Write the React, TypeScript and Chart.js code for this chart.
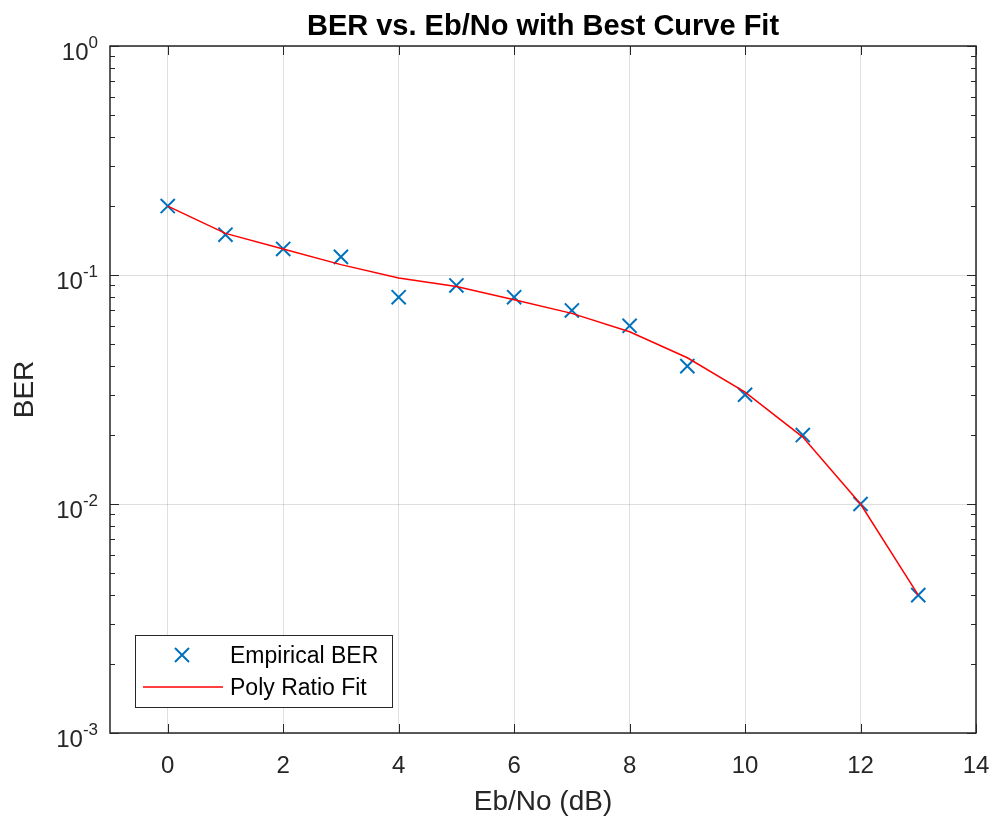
import React, { useEffect, useRef } from "react";
import { Chart, registerables } from "chart.js";

Chart.register(...registerables);

const ebNoDb = [0, 1, 2, 3, 4, 5, 6, 7, 8, 9, 10, 11, 12, 13];
const empiricalBer = [0.2, 0.15, 0.13, 0.12, 0.08, 0.09, 0.08, 0.07, 0.06, 0.04, 0.03, 0.02, 0.01, 0.004];
const polyRatioFit = [0.2, 0.152, 0.13, 0.111, 0.097, 0.089, 0.078, 0.068, 0.0565, 0.0435, 0.0308, 0.0196, 0.01, 0.004];
const xTickValues = [0, 2, 4, 6, 8, 10, 12, 14];
const yDecadeValues = [0.001, 0.01, 0.1, 1];
const yDecadeExponents = ["-3", "-2", "-1", "0"];
const chartTitle = "BER vs. Eb/No with Best Curve Fit";
const xAxisTitle = "Eb/No (dB)";
const yAxisTitle = "BER";
const seriesNames = ["Empirical BER", "Poly Ratio Fit"];

const FONT = "Arial, 'Liberation Sans', Helvetica, sans-serif";
const AXIS_COLOR = "#262626";
const GRID_COLOR = "rgba(38,38,38,0.15)";
const BLUE = "#0072BD";
const RED = "#FF0000";

const matlabDecor = {
  id: "matlabDecor",
  afterDraw(chart: any) {
    const ctx = chart.ctx as CanvasRenderingContext2D;
    const { left, right, top, bottom } = chart.chartArea;
    const xs = chart.scales.x;
    const ys = chart.scales.y;
    ctx.save();

    // tick marks (inside, both sides)
    ctx.strokeStyle = AXIS_COLOR;
    ctx.lineWidth = 1;
    ctx.beginPath();
    xTickValues.forEach((v) => {
      const px = Math.round(xs.getPixelForValue(v)) + 0.5;
      ctx.moveTo(px, bottom);
      ctx.lineTo(px, bottom - 9);
      ctx.moveTo(px, top);
      ctx.lineTo(px, top + 9);
    });
    yDecadeValues.forEach((d, i) => {
      const maxM = i === yDecadeValues.length - 1 ? 1 : 9;
      for (let m = 1; m <= maxM; m++) {
        const py = Math.round(ys.getPixelForValue(d * m)) + 0.5;
        const len = m === 1 ? 9 : 5;
        ctx.moveTo(left, py);
        ctx.lineTo(left + len, py);
        ctx.moveTo(right, py);
        ctx.lineTo(right - len, py);
      }
    });
    ctx.stroke();

    // axes box
    ctx.lineWidth = 1.5;
    ctx.strokeRect(left, top, right - left, bottom - top);

    // y tick labels with superscripts
    ctx.fillStyle = AXIS_COLOR;
    ctx.textAlign = "right";
    ctx.textBaseline = "alphabetic";
    yDecadeValues.forEach((v, i) => {
      const py = ys.getPixelForValue(v);
      const xr = left - 12;
      ctx.font = `17px ${FONT}`;
      const supW = ctx.measureText(yDecadeExponents[i]).width;
      ctx.fillText(yDecadeExponents[i], xr, py + 2);
      ctx.font = `24px ${FONT}`;
      ctx.fillText("10", xr - supW, py + 14);
    });

    // title
    const cx = (left + right) / 2;
    ctx.fillStyle = "#000000";
    ctx.textAlign = "center";
    ctx.font = `bold 29px ${FONT}`;
    ctx.fillText(chartTitle, cx, 35);

    // x axis title
    ctx.fillStyle = AXIS_COLOR;
    ctx.font = `28px ${FONT}`;
    ctx.fillText(xAxisTitle, cx, 810);

    // y axis title
    ctx.save();
    ctx.translate(33, (top + bottom) / 2);
    ctx.rotate(-Math.PI / 2);
    ctx.fillText(yAxisTitle, 0, 0);
    ctx.restore();

    // legend
    const lx = 135.5, ly = 635.5, lw = 257, lh = 72;
    ctx.fillStyle = "#ffffff";
    ctx.fillRect(lx, ly, lw, lh);
    ctx.strokeStyle = AXIS_COLOR;
    ctx.lineWidth = 1;
    ctx.strokeRect(lx, ly, lw, lh);

    const ds0 = chart.data.datasets[0];
    const ds1 = chart.data.datasets[1];
    ctx.strokeStyle = ds0.borderColor;
    ctx.lineWidth = ds0.borderWidth;
    ctx.beginPath();
    const mx = 182, my = 655, h = 7;
    ctx.moveTo(mx - h, my - h);
    ctx.lineTo(mx + h, my + h);
    ctx.moveTo(mx - h, my + h);
    ctx.lineTo(mx + h, my - h);
    ctx.stroke();
    ctx.strokeStyle = ds1.borderColor;
    ctx.lineWidth = ds1.borderWidth;
    ctx.beginPath();
    ctx.moveTo(143, 687);
    ctx.lineTo(223, 687);
    ctx.stroke();

    ctx.fillStyle = "#000000";
    ctx.textAlign = "left";
    ctx.font = `23px ${FONT}`;
    ctx.fillText(seriesNames[0], 230, 663);
    ctx.fillText(seriesNames[1], 230, 695);

    ctx.restore();
  },
};

export default function App() {
  const canvasRef = useRef<HTMLCanvasElement | null>(null);

  useEffect(() => {
    document.body.style.margin = "0";
    const canvas = canvasRef.current;
    if (!canvas) return;
    const chart = new Chart(canvas, {
      type: "scatter",
      data: {
        datasets: [
          {
            label: seriesNames[0],
            data: ebNoDb.map((x, i) => ({ x, y: empiricalBer[i] })),
            showLine: false,
            pointStyle: "crossRot",
            pointRadius: 10,
            pointHoverRadius: 10,
            borderColor: BLUE,
            backgroundColor: BLUE,
            borderWidth: 2,
            order: 1,
          },
          {
            label: seriesNames[1],
            data: ebNoDb.map((x, i) => ({ x, y: polyRatioFit[i] })),
            showLine: true,
            pointRadius: 0,
            pointHoverRadius: 0,
            borderColor: RED,
            backgroundColor: RED,
            borderWidth: 1.5,
            tension: 0,
            order: 0,
          },
        ],
      },
      options: {
        responsive: false,
        devicePixelRatio: 1,
        animation: false,
        events: [],
        layout: { padding: { left: 0, right: 17, top: 46, bottom: 0 } },
        plugins: {
          legend: { display: false },
          title: { display: false },
          tooltip: { enabled: false },
        },
        scales: {
          x: {
            type: "linear",
            min: -1,
            max: 14,
            afterBuildTicks: (scale: any) => {
              scale.ticks = xTickValues.map((v) => ({ value: v }));
            },
            afterFit: (scale: any) => {
              scale.height = 85;
              scale.paddingLeft = 0;
              scale.paddingRight = 0;
            },
            ticks: {
              color: AXIS_COLOR,
              font: { family: FONT, size: 24 },
              padding: 19,
              maxRotation: 0,
              autoSkip: false,
            },
            grid: { color: GRID_COLOR, drawTicks: false, lineWidth: 1 },
            border: { display: false },
          },
          y: {
            type: "logarithmic",
            min: 0.001,
            max: 1,
            afterBuildTicks: (scale: any) => {
              scale.ticks = yDecadeValues.map((v) => ({ value: v, major: true }));
            },
            afterFit: (scale: any) => {
              scale.width = 110;
              scale.paddingTop = 0;
              scale.paddingBottom = 0;
            },
            ticks: { display: false },
            grid: { color: GRID_COLOR, drawTicks: false, lineWidth: 1 },
            border: { display: false },
          },
        },
      },
      plugins: [matlabDecor],
    } as any);
    return () => chart.destroy();
  }, []);

  return (
    <div style={{ position: "absolute", left: 0, top: 0, width: 993, height: 818, background: "#ffffff" }}>
      <canvas ref={canvasRef} width={993} height={818} style={{ display: "block" }} />
    </div>
  );
}
